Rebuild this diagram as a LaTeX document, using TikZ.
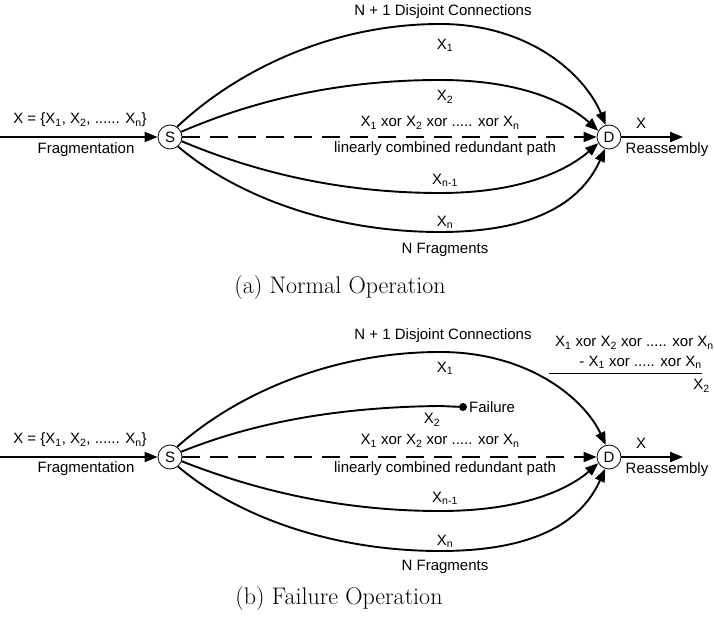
\documentclass[tikz,border=0pt]{standalone}
\usepackage{fontspec}
\newfontfamily\diafont{Liberation Sans}
\usetikzlibrary{arrows.meta}
\newcommand\Xs[1]{X\textsubscript{#1}}
\begin{document}
\begin{tikzpicture}[x=1pt,y=-1pt,
  lbl/.style={font=\diafont\fontsize{15}{17}\selectfont, inner sep=0pt},
  endpt/.style={circle, draw, line width=0.8pt, minimum size=24pt, inner sep=0pt, font=\diafont\fontsize{15}{17}\selectfont},
  conn/.style={line width=1.9pt, -{Triangle[length=13pt,width=10pt]}},
  dconn/.style={conn, dash pattern=on 18pt off 10pt},
  capt/.style={font=\fontsize{24}{28}\selectfont, inner sep=0pt}]
\useasboundingbox (0,0) rectangle (714,617);

% ---------------- panel (a) ----------------
\node[endpt] (Sa) at (170,137) {S};
\node[endpt] (Da) at (609,137) {D};
\coordinate (ina) at (0,137);
\coordinate (outa) at (683,137);
\draw[conn] (ina) -- (Sa);
\draw[conn] (Da) -- (outa);
\draw[conn] (Sa.55) .. controls (235,72) and (330,24) .. (440,24) .. controls (530,24) and (585,75) .. (Da.105);
\draw[conn] (Sa.25) .. controls (255,100) and (340,80) .. (440,80) .. controls (525,80) and (570,105) .. (Da.150);
\draw[dconn] (Sa) -- (Da);
\draw[conn] (Sa.-20) .. controls (255,172) and (340,193) .. (440,193) .. controls (525,193) and (570,168) .. (Da.-150);
\draw[conn] (Sa.-50) .. controls (235,195) and (330,232) .. (440,232) .. controls (530,232) and (580,205) .. (Da.-108);

\node[lbl] (ta) at (443,12) {N + 1 Disjoint Connections};
\node[lbl] (x1a) at (445,45) {\Xs{1}};
\node[lbl] (x2a) at (445,97) {\Xs{2}};
\node[lbl] (xora) at (440,123) {\Xs{1} xor \Xs{2} xor ..... xor \Xs{n}};
\node[lbl] (lina) at (445,149) {linearly combined redundant path};
\node[lbl] (xn1a) at (445,180) {\Xs{n-1}};
\node[lbl] (xna) at (445,222) {\Xs{n}};
\node[lbl] (nfa) at (445,250) {N Fragments};
\node[lbl] (inla) at (80,120) {X = \{\Xs{1}, \Xs{2}, ...... \Xs{n}\}};
\node[lbl] (fra) at (86,150) {Fragmentation};
\node[lbl] (xouta) at (641,123) {X};
\node[lbl] (rea) at (667,150) {Reassembly};
\node[capt] (capa) at (340,288) {(a) Normal Operation};

% ---------------- panel (b) ----------------
\node[endpt] (Sb) at (170,457) {S};
\node[endpt] (Db) at (609,457) {D};
\coordinate (inb) at (0,457);
\coordinate (outb) at (683,457);
\draw[conn] (inb) -- (Sb);
\draw[conn] (Db) -- (outb);
\draw[conn] (Sb.55) .. controls (235,395) and (330,352) .. (440,352) .. controls (530,352) and (585,400) .. (Db.105);
\node[circle, fill, inner sep=0pt, minimum size=8pt] (fail) at (463,407) {};
\draw[line width=1.9pt] (Sb.25) .. controls (255,422) and (340,407) .. (440,406) -- (fail);
\draw[dconn] (Sb) -- (Db);
\draw[conn] (Sb.-20) .. controls (255,490) and (340,511) .. (440,511) .. controls (525,511) and (570,488) .. (Db.-150);
\draw[conn] (Sb.-50) .. controls (235,515) and (330,551) .. (440,551) .. controls (530,551) and (580,525) .. (Db.-108);

\node[lbl] (tb) at (443,336) {N + 1 Disjoint Connections};
\node[lbl] (x1b) at (445,368) {\Xs{1}};
\node[lbl, anchor=west] (failt) at (469,407) {Failure};
\node[lbl] (x2b) at (432,420) {\Xs{2}};
\node[lbl] (xorb) at (440,441) {\Xs{1} xor \Xs{2} xor ..... xor \Xs{n}};
\node[lbl] (linb) at (445,469) {linearly combined redundant path};
\node[lbl] (xn1b) at (445,498) {\Xs{n-1}};
\node[lbl] (xnb) at (445,541) {\Xs{n}};
\node[lbl] (nfb) at (445,567) {N Fragments};
\node[lbl] (inlb) at (80,440) {X = \{\Xs{1}, \Xs{2}, ...... \Xs{n}\}};
\node[lbl] (frb) at (86,469) {Fragmentation};
\node[lbl] (xoutb) at (641,443) {X};
\node[lbl] (reb) at (667,470) {Reassembly};
\node[capt] (capb) at (339,599) {(b) Failure Operation};

% annotation
\node[lbl, anchor=east] (an1) at (714,343) {\Xs{1} xor \Xs{2} xor ..... xor \Xs{n}};
\node[lbl, anchor=east] (an2) at (702,362) {- \Xs{1} xor ..... xor \Xs{n}};
\coordinate (rl) at (549,373);
\coordinate (rr) at (702,373);
\draw[line width=1pt] (rl) -- (rr);
\node[lbl, anchor=east] (an3) at (710,386) {\Xs{2}};
\end{tikzpicture}
\end{document}
